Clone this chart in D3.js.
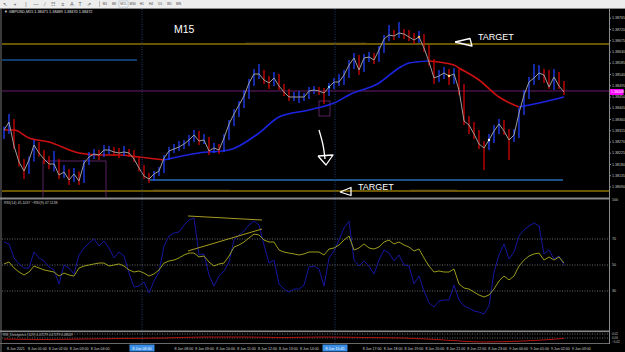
<!DOCTYPE html>
<html>
<head>
<meta charset="utf-8">
<script src="https://cdn.jsdelivr.net/npm/d3@7"></script>
<style>
  html, body { margin: 0; padding: 0; background: #000; overflow: hidden; }
  svg { display: block; font-family: "Liberation Sans", Arial, sans-serif; }
</style>
</head>
<body>
<div id="chart"></div>
<script>
// ---- data (GBPUSD M15) ----
const closes = [
  1.38316,1.38348,1.38252,1.38188,1.38152,1.38196,1.38256,1.38224,1.38200,1.38180,
  1.38180,1.38136,1.38148,1.38116,1.38140,1.38112,1.38184,1.38208,1.38220,1.38216,
  1.38236,1.38236,1.38228,1.38224,1.38228,1.38224,1.38200,1.38164,1.38132,1.38120,
  1.38140,1.38152,1.38204,1.38232,1.38240,1.38248,1.38260,1.38276,1.38296,1.38272,
  1.38276,1.38232,1.38244,1.38236,1.38284,1.38340,1.38380,1.38416,1.38452,1.38504,
  1.38540,1.38540,1.38516,1.38504,1.38524,1.38492,1.38468,1.38448,1.38448,1.38448,
  1.38448,1.38472,1.38476,1.38472,1.38464,1.38488,1.38508,1.38508,1.38536,1.38576,
  1.38604,1.38556,1.38604,1.38608,1.38596,1.38636,1.38680,1.38696,1.38692,1.38704,
  1.38700,1.38688,1.38676,1.38688,1.38644,1.38588,1.38524,1.38532,1.38544,1.38532,
  1.38540,1.38476,1.38352,1.38336,1.38300,1.38260,1.38244,1.38276,1.38312,1.38340,
  1.38312,1.38276,1.38296,1.38384,1.38456,1.38508,1.38524,1.38544,1.38536,1.38488,
  1.38528,1.38492,1.38468];
const highs = [
  1.38330,1.38380,1.38360,1.38260,1.38200,1.38210,1.38276,1.38268,1.38236,1.38212,
  1.38232,1.38200,1.38176,1.38160,1.38164,1.38150,1.38196,1.38228,1.38240,1.38236,
  1.38256,1.38252,1.38248,1.38244,1.38252,1.38240,1.38236,1.38212,1.38176,1.38144,
  1.38152,1.38168,1.38216,1.38248,1.38260,1.38272,1.38276,1.38296,1.38316,1.38312,
  1.38300,1.38288,1.38264,1.38260,1.38300,1.38356,1.38400,1.38432,1.38476,1.38520,
  1.38560,1.38580,1.38556,1.38532,1.38548,1.38540,1.38500,1.38480,1.38468,1.38472,
  1.38464,1.38488,1.38492,1.38488,1.38484,1.38504,1.38524,1.38540,1.38556,1.38596,
  1.38624,1.38616,1.38620,1.38628,1.38624,1.38652,1.38696,1.38736,1.38716,1.38748,
  1.38720,1.38716,1.38704,1.38712,1.38700,1.38656,1.38600,1.38556,1.38568,1.38560,
  1.38564,1.38560,1.38500,1.38372,1.38348,1.38316,1.38272,1.38300,1.38336,1.38360,
  1.38356,1.38320,1.38320,1.38404,1.38476,1.38528,1.38580,1.38576,1.38560,1.38556,
  1.38560,1.38548,1.38512];
const lows = [
  1.38280,1.38300,1.38240,1.38170,1.38120,1.38140,1.38190,1.38210,1.38180,1.38160,
  1.38150,1.38120,1.38124,1.38096,1.38108,1.38096,1.38104,1.38176,1.38200,1.38196,
  1.38208,1.38220,1.38212,1.38204,1.38212,1.38208,1.38188,1.38150,1.38120,1.38104,
  1.38112,1.38132,1.38144,1.38196,1.38224,1.38232,1.38240,1.38252,1.38268,1.38256,
  1.38260,1.38216,1.38224,1.38220,1.38228,1.38276,1.38332,1.38368,1.38404,1.38440,
  1.38492,1.38520,1.38500,1.38480,1.38492,1.38476,1.38452,1.38432,1.38432,1.38424,
  1.38432,1.38440,1.38460,1.38456,1.38420,1.38452,1.38480,1.38492,1.38496,1.38524,
  1.38560,1.38536,1.38548,1.38588,1.38580,1.38588,1.38624,1.38672,1.38676,1.38684,
  1.38680,1.38672,1.38660,1.38664,1.38628,1.38572,1.38500,1.38508,1.38520,1.38496,
  1.38500,1.38456,1.38336,1.38300,1.38280,1.38240,1.38156,1.38236,1.38264,1.38300,
  1.38296,1.38196,1.38268,1.38284,1.38376,1.38440,1.38496,1.38516,1.38504,1.38480,
  1.38476,1.38480,1.38456];

// moving average, sampled at bar indices
const maIndex = [0,2,5,9,15,19,23,27,32,39,45,51,55,61,66,69,75,79,81,85,90,91,95,99,103,107,112];
const maValues = [
  1.38316,1.38316,1.38284,1.38268,1.38224,1.38216,1.38216,1.38208,1.38196,1.38224,
  1.38236,1.38304,1.38368,1.38396,1.38424,1.38456,1.38504,1.38564,1.38584,1.38592,
  1.38576,1.38564,1.38516,1.38448,1.38408,1.38424,1.38448];

// RSI sub-window
const rsiFast = [
  67.7,66.2,55.4,50.8,47.7,47.7,60.0,55.4,53.1,48.5,
  46.2,35.4,50.0,47.7,43.1,57.7,63.1,66.9,70.0,64.6,
  68.5,63.1,55.4,60.0,56.9,43.8,33.1,33.8,36.9,28.5,
  37.7,44.6,64.6,72.3,74.6,75.4,80.8,84.6,86.2,57.7,
  58.5,42.3,33.8,41.5,45.4,52.3,69.2,73.1,76.2,80.8,
  83.8,80.8,65.4,51.5,53.8,35.4,31.5,29.2,31.5,31.5,
  34.6,48.5,49.2,46.9,33.8,55.4,60.8,69.2,78.5,83.8,
  53.8,49.2,53.1,49.2,43.1,53.8,61.5,59.2,53.1,57.7,
  50.0,49.2,35.4,41.5,30.0,20.8,17.7,22.3,23.1,23.1,
  34.6,23.1,18.5,16.9,14.6,13.8,12.3,18.5,44.6,57.7,
  66.2,54.6,60.0,72.3,76.9,80.0,82.3,80.0,58.5,61.5,
  54.6,56.9,50.0];
const rsiSlow = [
  50.8,52.3,47.7,44.6,42.3,44.6,49.2,47.7,46.2,45.4,
  44.6,41.5,43.8,42.3,41.5,47.7,49.2,50.0,50.8,51.5,
  51.5,49.2,50.0,50.8,49.2,46.2,44.6,45.4,43.8,41.5,
  43.1,46.2,51.5,53.1,53.8,55.4,57.7,59.2,59.2,56.2,
  56.9,52.3,49.2,50.8,51.5,56.9,63.8,65.4,67.7,70.8,
  73.8,73.1,69.2,67.7,67.7,61.5,60.0,59.2,58.5,57.7,
  58.5,60.0,60.0,60.0,57.7,62.3,63.1,65.4,69.2,72.3,
  61.5,63.1,66.2,63.1,62.3,63.8,67.7,69.2,66.2,67.7,
  65.4,63.8,60.8,62.3,55.4,49.2,44.6,45.4,44.6,44.6,
  46.9,35.4,32.3,31.5,29.2,26.9,25.4,26.9,31.5,37.7,
  41.5,38.5,41.5,49.2,53.8,56.9,58.5,59.2,53.8,56.2,
  53.8,56.2,51.5];
const rsiLevels = [70, 50, 30];
const rsiTrends = [[36.8, 87.7, 51.6, 84.6], [36.8, 60.8, 51.6, 77.7]];

// third window (divergence line)
const divIndex = [0,8,16,24,32,40,48,56,64,72,80,88,96,104,112];
const divValues = [-0.2,-0.3,-0.2,-0.1,0,0.2,0.2,0.1,0.2,0.1,0,-0.4,-0.8,-0.6,-0.1];

// horizontal levels and their spans (bar index)
const levelPrices = [1.38660, 1.38596, 1.38472, 1.38116, 1.38072];
const levelFrom = [-0.4, -0.4, -0.4, 28.8, -0.4];
const levelTo = [121, 26.6, 121, 111.8, 121];
const darkSpans = [[1.38660, 48.2, 72.4], [1.38072, 29.8, 45.2], [1.38072, 81.2, 90.6]];
const crossIndex = [27.6, 66.2];
const crossLabels = ['8 Jun 06:30', '8 Jun 15:45'];
const signalIndex = [65, 83, 89, 97];

const priceTicks = [1.38765,1.38720,1.38675,1.38630,1.38585,1.38540,1.38495,1.38450,
  1.38405,1.38360,1.38315,1.38270,1.38225,1.38180,1.38135,1.38090];
const timeLabels = ['8 Jun 2021','8 Jun 01:00','8 Jun 02:00','8 Jun 03:00','8 Jun 04:00',
  '8 Jun 05:00','8 Jun 06:00','8 Jun 07:00','8 Jun 08:00','8 Jun 09:00','8 Jun 10:00',
  '8 Jun 11:00','8 Jun 12:00','8 Jun 13:00','8 Jun 14:00','8 Jun 15:00','8 Jun 16:00',
  '8 Jun 17:00','8 Jun 18:00','8 Jun 19:00','8 Jun 20:00','8 Jun 21:00','8 Jun 22:00',
  '8 Jun 23:00','9 Jun 00:00','9 Jun 01:00','9 Jun 02:00','9 Jun 03:00'];
const periods = ['M1','M5','M15','M30','H1','H4','D1','W1','MN'];

// ---- layout ----
const W = 625, H = 352;
const plot = {left: 2, right: 609, top: 9, bottom: 197};
const RED = '#d40000', BLUE = '#1f3fff';

const x = d3.scaleLinear().domain([0, 112]).range([4, 564]);
const y = d3.scaleLinear().domain([1.38048, 1.38800]).range([197, 9]);
const yRsi = d3.scaleLinear().domain([0, 100]).range([330, 200]);
const yDiv = d3.scaleLinear().domain([-1, 1]).range([343, 333]);
const xTime = d3.scalePoint().domain(timeLabels).range([7, 572]);

const svg = d3.select('#chart').append('svg').attr('width', W).attr('height', H);
svg.append('rect').attr('width', W).attr('height', H).attr('fill', '#000');

// toolbar
const tb = svg.append('g');
tb.append('rect').attr('width', W).attr('height', 8).attr('fill', '#ededed');
tb.append('line').attr('x1', 0).attr('x2', W).attr('y1', 8.5).attr('y2', 8.5).attr('stroke', '#8c8c8c');
const tools = ['\u2196', '+', '|', '\u2014', '\u2215', '\u2637', '\u2261', 'A', 'T', '\u21D7'];
const toolX = [5, 15, 26, 36, 45, 53, 63, 72, 80, 89];
tb.selectAll('text.tool').data(tools).join('text').attr('class', 'tool')
  .attr('x', (d, i) => toolX[i]).attr('y', 6).attr('text-anchor', 'middle')
  .attr('font-size', 5).attr('fill', '#555').text(d => d);
tb.append('line').attr('x1', 99.5).attr('x2', 99.5).attr('y1', 1).attr('y2', 7).attr('stroke', '#bbb');
tb.append('rect').attr('x', 119).attr('y', 1).attr('width', 9).attr('height', 6)
  .attr('fill', '#fafafa').attr('stroke', '#9ab').attr('stroke-width', 0.5);
tb.selectAll('text.per').data(periods).join('text').attr('class', 'per')
  .attr('x', (d, i) => 105 + i * 9.2).attr('y', 5.3).attr('text-anchor', 'middle')
  .attr('font-size', 3.2).attr('fill', '#444').text(d => d);

// frame
svg.append('rect').attr('x', 0).attr('y', 9).attr('width', 2).attr('height', H - 9).attr('fill', '#3a3a3a');

svg.append('clipPath').attr('id', 'clipMain').append('rect')
  .attr('x', plot.left).attr('y', plot.top)
  .attr('width', plot.right - plot.left).attr('height', plot.bottom - plot.top);
const main = svg.append('g').attr('clip-path', 'url(#clipMain)');

// vertical dotted markers through all windows
svg.selectAll('line.cross').data(crossIndex).join('line').attr('class', 'cross')
  .attr('x1', d => x(d)).attr('x2', d => x(d)).attr('y1', plot.top).attr('y2', 343)
  .attr('stroke', '#1e3f70').attr('stroke-dasharray', '1,1.5');

// horizontal levels
const levelColor = ['#d4aa00', '#1e78d8', '#6a1c6e', '#1d5284', '#d4aa00'];
const levelWidth = [1.2, 1.2, 1, 1.8, 1.2];
main.selectAll('line.level').data(levelPrices).join('line').attr('class', 'level')
  .attr('x1', (d, i) => x(levelFrom[i])).attr('x2', (d, i) => x(levelTo[i]))
  .attr('y1', d => y(d)).attr('y2', d => y(d))
  .attr('stroke', (d, i) => levelColor[i]).attr('stroke-width', (d, i) => levelWidth[i]);
main.selectAll('line.dark').data(darkSpans).join('line').attr('class', 'dark')
  .attr('x1', d => x(d[1])).attr('x2', d => x(d[2]))
  .attr('y1', d => y(d[0]) - 0.4).attr('y2', d => y(d[0]) - 0.4)
  .attr('stroke', '#6e5a10').attr('stroke-width', 1.6);

// purple boxes
const boxes = [[63, 1.38432, 65.2, 1.38372], [7.8, 1.38192, 20.4, 1.38000]];
main.selectAll('rect.box').data(boxes).join('rect').attr('class', 'box')
  .attr('x', d => x(d[0])).attr('y', d => y(d[1]))
  .attr('width', d => x(d[2]) - x(d[0])).attr('height', d => y(d[3]) - y(d[1]))
  .attr('fill', 'none').attr('stroke', '#6e2a78').attr('stroke-width', 0.8);

// colour-switching moving average
const maPts = maIndex.map((i, k) => [i, maValues[k]]);
const runs = [];
let cur = [maPts[0]], curUp = null;
for (let k = 1; k < maPts.length; k++) {
  const up = maPts[k][1] > maPts[k - 1][1];
  if (curUp !== null && up !== curUp) { runs.push({up: curUp, pts: cur}); cur = [maPts[k - 1]]; }
  curUp = up;
  cur.push(maPts[k]);
}
runs.push({up: curUp, pts: cur});
const maLine = d3.line().x(d => x(d[0])).y(d => y(d[1])).curve(d3.curveMonotoneX);
main.selectAll('path.ma').data(runs).join('path').attr('class', 'ma')
  .attr('d', d => maLine(d.pts)).attr('fill', 'none')
  .attr('stroke', d => d.up ? '#1c24e0' : '#cc1010').attr('stroke-width', 1.6);

// bars
main.append('g').selectAll('line').data(closes).join('line')
  .attr('x1', (d, i) => x(i)).attr('x2', (d, i) => x(i))
  .attr('y1', (d, i) => y(highs[i])).attr('y2', (d, i) => y(lows[i]))
  .attr('stroke', (d, i) => (i === 0 || d >= closes[i - 1]) ? BLUE : RED)
  .attr('stroke-width', 1.3);

// close line
main.append('path').datum(closes)
  .attr('d', d3.line().x((d, i) => x(i)).y(d => y(d)))
  .attr('fill', 'none').attr('stroke', '#9c9c9c').attr('stroke-width', 1);

// signal dots
const sigColor = ['#7fc8ff', '#ffb060', '#ffe080', '#ffffff'];
main.selectAll('circle.sig').data(signalIndex).join('circle').attr('class', 'sig')
  .attr('cx', d => x(d)).attr('cy', d => y(closes[d])).attr('r', 1.2)
  .attr('fill', (d, i) => sigColor[i]);

// hand-drawn annotations
const pt = d3.line().x(d => x(d[0])).y(d => y(d[1]));
const shapes = [
  {pts: [[90.2, 1.38668], [93.2, 1.38682], [93.6, 1.38652], [90.2, 1.38668]], curve: d3.curveLinear},
  {pts: [[63, 1.38316], [63.8, 1.38256], [64.2, 1.38200]], curve: d3.curveCatmullRom},
  {pts: [[62.8, 1.38212], [65.8, 1.38216], [64.4, 1.38176], [62.8, 1.38212]], curve: d3.curveLinear},
  {pts: [[67.2, 1.38068], [69.4, 1.38086], [69.4, 1.38054], [67.2, 1.38068]], curve: d3.curveLinear}
];
main.selectAll('path.ann').data(shapes).join('path').attr('class', 'ann')
  .attr('d', d => pt.curve(d.curve)(d.pts)).attr('fill', 'none')
  .attr('stroke', '#fff').attr('stroke-width', 1.3).attr('stroke-linejoin', 'round');

const notes = [['M15', 34, 1.38704, 10.5], ['TARGET', 94.8, 1.38676, 9], ['TARGET', 70.8, 1.38078, 9]];
main.selectAll('text.note').data(notes).join('text').attr('class', 'note')
  .attr('x', d => x(d[1])).attr('y', d => y(d[2])).attr('font-size', d => d[3])
  .attr('fill', '#fff').text(d => d[0]);

svg.append('text').attr('x', 4).attr('y', 13).attr('font-size', 3.8).attr('fill', '#e0e0e0')
  .text('\u25BC GBPUSD,M15  1.38471 1.38489 1.38470 1.38472');

// window separators
svg.append('rect').attr('x', 0).attr('y', 197.5).attr('width', 609).attr('height', 2).attr('fill', '#8a8a8a');
svg.append('rect').attr('x', 0).attr('y', 330.5).attr('width', 609).attr('height', 1.6).attr('fill', '#8a8a8a');
svg.append('line').attr('x1', 0).attr('x2', 609).attr('y1', 343.5).attr('y2', 343.5).attr('stroke', '#6a6a6a');
svg.append('line').attr('x1', 609.5).attr('x2', 609.5).attr('y1', 9).attr('y2', 344).attr('stroke', '#8a8a8a');

// RSI window
const rsi = svg.append('g');
rsi.selectAll('line.lvl').data(rsiLevels).join('line').attr('class', 'lvl')
  .attr('x1', plot.left).attr('x2', 609).attr('y1', d => yRsi(d)).attr('y2', d => yRsi(d))
  .attr('stroke', '#6a6a6a').attr('stroke-dasharray', '1,1.5');
const rsiLine = d3.line().x((d, i) => x(i)).y(d => yRsi(d));
rsi.append('path').datum(rsiFast).attr('d', rsiLine).attr('fill', 'none')
  .attr('stroke', '#16169e').attr('stroke-width', 1);
rsi.append('path').datum(rsiSlow).attr('d', rsiLine).attr('fill', 'none')
  .attr('stroke', '#9a9a1c').attr('stroke-width', 1);
rsi.selectAll('line.trend').data(rsiTrends).join('line').attr('class', 'trend')
  .attr('x1', d => x(d[0])).attr('y1', d => yRsi(d[1]))
  .attr('x2', d => x(d[2])).attr('y2', d => yRsi(d[3]))
  .attr('stroke', '#a89a20').attr('stroke-width', 1);
rsi.append('text').attr('x', 4).attr('y', 204).attr('font-size', 3.6).attr('fill', '#c8c8c8')
  .text('RSI(14) 45.1037  ~RSI(9) 47.1138');
rsi.selectAll('text.ax').data([100].concat(rsiLevels)).join('text').attr('class', 'ax')
  .attr('x', 612).attr('y', d => yRsi(d) + 1.3).attr('font-size', 3.6).attr('fill', '#c8c8c8')
  .text(d => d);

// divergence window
const dv = svg.append('g');
dv.selectAll('line.lvl').data([0.8, 0]).join('line').attr('class', 'lvl')
  .attr('x1', plot.left).attr('x2', 609).attr('y1', d => yDiv(d)).attr('y2', d => yDiv(d))
  .attr('stroke', '#6a6a6a').attr('stroke-dasharray', '1,1.5');
dv.append('path').datum(divValues)
  .attr('d', d3.line().x((d, i) => x(divIndex[i])).y(d => yDiv(d)).curve(d3.curveMonotoneX))
  .attr('fill', 'none').attr('stroke', '#b01414').attr('stroke-width', 1);
dv.append('text').attr('x', 3).attr('y', 335.5).attr('font-size', 3.2).attr('fill', '#c0c0c0')
  .text('RSI_Divergence (14,9) 0.07279 0.07279 0.08509');
dv.selectAll('text.ax').data([0.8, 0, -0.8]).join('text').attr('class', 'ax')
  .attr('x', 612).attr('y', d => yDiv(d) + 1.2).attr('font-size', 3).attr('fill', '#c0c0c0')
  .text(d => d3.format('.2f')(d / 40));

// price axis
const yAxis = svg.append('g').attr('transform', 'translate(609.5,0)')
  .call(d3.axisRight(y).tickValues(priceTicks).tickFormat(d3.format('.5f')).tickSize(1.5));
yAxis.select('.domain').remove();
yAxis.selectAll('line').attr('stroke', '#8a8a8a');
yAxis.selectAll('text').attr('font-size', 3.6).attr('fill', '#c8c8c8').attr('x', 2.5);
svg.append('rect').attr('x', 610).attr('y', y(closes[112]) - 3).attr('width', 13.5).attr('height', 6)
  .attr('fill', '#ff00ff');
svg.append('text').attr('x', 611).attr('y', y(closes[112]) + 1.3).attr('font-size', 3.6)
  .attr('fill', '#fff').text(d3.format('.5f')(closes[112]));

// time axis: labels hidden where the crosshair boxes sit, as in the terminal
const hlHalf = 12.5, labelW = 21;
const visibleTimes = timeLabels.filter(d => !crossIndex.some(c =>
  xTime(d) + labelW > x(c) - hlHalf && xTime(d) < x(c) + hlHalf));
svg.selectAll('text.time').data(visibleTimes).join('text').attr('class', 'time')
  .attr('x', d => xTime(d)).attr('y', 349.5).attr('font-size', 3.6).attr('fill', '#d0d0d0')
  .text(d => d);
svg.selectAll('rect.hl').data(crossIndex).join('rect').attr('class', 'hl')
  .attr('x', d => x(d) - hlHalf).attr('y', 344.5).attr('width', hlHalf * 2).attr('height', 7)
  .attr('fill', '#3a8ee6');
svg.selectAll('text.hl').data(crossIndex).join('text').attr('class', 'hl')
  .attr('x', d => x(d)).attr('y', 349.5).attr('text-anchor', 'middle')
  .attr('font-size', 3.6).attr('fill', '#fff').text((d, i) => crossLabels[i]);
</script>
</body>
</html>
